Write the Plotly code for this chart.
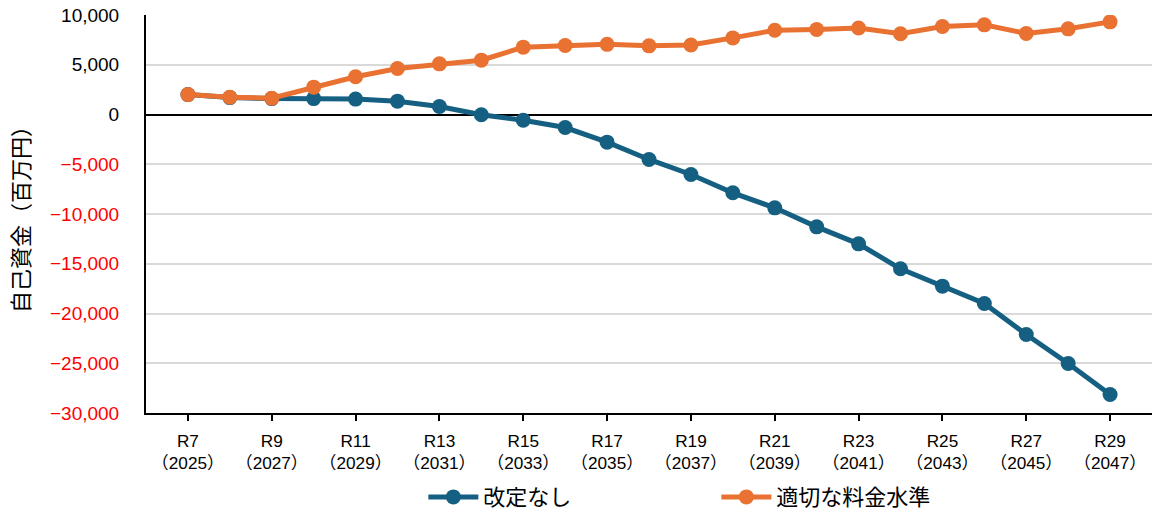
import plotly.graph_objects as go

# Fiscal years (Reiwa era) and Western calendar years
reiwa = ["R7", "R8", "R9", "R10", "R11", "R12", "R13", "R14", "R15", "R16", "R17", "R18",
         "R19", "R20", "R21", "R22", "R23", "R24", "R25", "R26", "R27", "R28", "R29"]
years = list(range(2025, 2048))

# Own funds (million yen)
no_revision = [2000, 1700, 1600, 1600, 1550, 1340, 800, -30, -570, -1310, -2780, -4520,
               -6030, -7870, -9380, -11290, -13000, -15510, -17250, -19000, -22110, -25030, -28140]
proper_rate = [2000, 1740, 1640, 2750, 3790, 4620, 5090, 5460, 6770, 6930, 7050, 6900,
               6980, 7700, 8470, 8540, 8700, 8110, 8840, 9010, 8140, 8610, 9310]

series_names = ["改定なし", "適切な料金水準"]
series_colors = ["#156082", "#E97132"]

y_ticks = [10000, 5000, 0, -5000, -10000, -15000, -20000, -25000, -30000]


def fmt_tick(v):
    s = f"{abs(v):,}"
    if v < 0:
        return f'<span style="color:#FF0000">−{s}</span>'
    return s


x_idx = list(range(len(reiwa)))
x_tickvals = x_idx[::2]
x_ticktext = [f"{reiwa[i]}<br>（{years[i]}）" for i in x_tickvals]

JP = "Noto Sans CJK JP, sans-serif"
NUM = "Liberation Sans, Noto Sans CJK JP, sans-serif"

fig = go.Figure()
for name, vals, col in zip(series_names, [no_revision, proper_rate], series_colors):
    fig.add_trace(go.Scatter(
        x=x_idx, y=vals, name=name, mode="lines+markers",
        line=dict(color=col, width=5),
        marker=dict(color=col, size=15),
    ))

fig.update_layout(
    width=1152, height=513,
    margin=dict(l=146, r=0, t=15, b=100),
    paper_bgcolor="white", plot_bgcolor="white",
    font=dict(family=JP, color="#000000"),
    showlegend=True,
    legend=dict(
        orientation="h", xref="container", yref="container",
        x=0.3675, xanchor="left", y=0.031, yanchor="middle",
        font=dict(size=22, family=JP), entrywidth=228, entrywidthmode="pixels",
        itemwidth=50,
    ),
    xaxis=dict(
        range=[-1, 23], tickvals=x_tickvals, ticktext=x_ticktext,
        showgrid=False, zeroline=False,
        showline=True, linecolor="#000000", linewidth=2,
        ticks="outside", ticklen=6, tickwidth=1.5, tickcolor="#000000",
        ticklabelstandoff=5,
        tickfont=dict(size=17.2, family=NUM),
    ),
    yaxis=dict(
        range=[-30000, 10000], tickvals=y_ticks, ticktext=[fmt_tick(v) for v in y_ticks],
        showgrid=True, gridcolor="#D9D9D9", gridwidth=1.5,
        zeroline=True, zerolinecolor="#000000", zerolinewidth=2,
        showline=True, linecolor="#000000", linewidth=2,
        ticks="", ticklabelstandoff=21,
        tickfont=dict(size=19, family=NUM),
        title=dict(text="自己資金（百万円）", font=dict(size=22, family=JP), standoff=14),
    ),
)

fig.write_html("out.html")
